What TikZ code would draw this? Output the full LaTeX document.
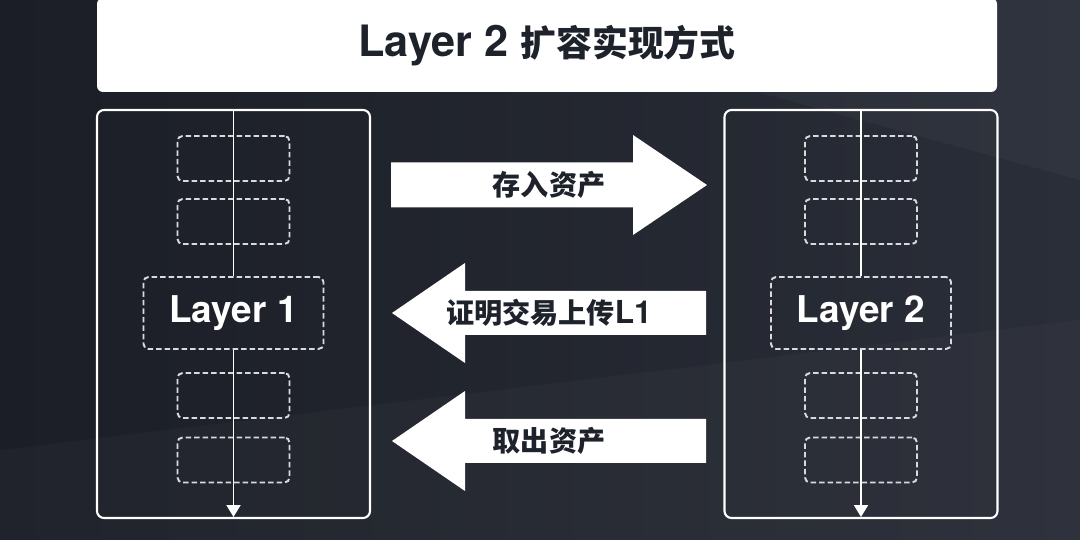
\documentclass[tikz,border=0pt]{standalone}
\usepackage{fontspec}
\setmainfont{TeX Gyre Heros}
\newfontfamily\cjk{Noto Sans CJK SC}
\usetikzlibrary{arrows.meta}

\definecolor{bgdark}{HTML}{1B1E26}
\definecolor{bglight}{HTML}{2A2E38}
\definecolor{ink}{HTML}{1E222B}
\definecolor{dashgray}{HTML}{D8DADE}

\begin{document}
\begin{tikzpicture}[
  panel/.style={draw=white, line width=0.6pt, rounded corners=0.07cm, minimum width=2.73cm, minimum height=4.08cm, inner sep=0pt},
  slot/.style={draw=dashgray, dash pattern=on 0.055cm off 0.03cm, line width=0.55pt, rounded corners=0.05cm, minimum width=1.12cm, minimum height=0.45cm, inner sep=0pt},
  layerbox/.style={slot, minimum width=1.80cm, minimum height=0.72cm, text=white, font=\bfseries\fontsize{10.5}{12}\selectfont},
  chain/.style={draw=white, line width=0.55pt},
  bigarrow/.style={fill=white},
  arrowlabel/.style={text=ink, font=\cjk\bfseries\fontsize{8}{10}\selectfont, inner sep=0pt}
]
\useasboundingbox (0,0) rectangle (10.8,5.4);
\shade[left color=bgdark, right color=bglight] (0,0) rectangle (10.8,5.4);
\fill[white, opacity=0.03] (4.2,5.4) -- (10.8,5.4) -- (10.8,3.6) -- cycle;
\fill[white, opacity=0.025] (0,0.9) -- (10.8,2.2) -- (10.8,0) -- (0,0) -- cycle;

% title
\node[fill=white, rounded corners=0.06cm, minimum width=9cm, minimum height=0.94cm, text=ink] (title) at (5.47,4.95)
  {{\bfseries\fontsize{12.3}{14}\selectfont Layer 2\ }{\cjk\bfseries\fontsize{10.2}{12}\selectfont 扩容实现方式}};

% left chain
\node[panel] (leftpanel) at (2.335,2.26) {};
\node[slot] (l1a) at (2.335,3.815) {};
\node[slot] (l1b) at (2.335,3.185) {};
\node[layerbox] (l1) at (2.335,2.27) {Layer 1};
\node[slot] (l1c) at (2.335,1.445) {};
\node[slot] (l1d) at (2.335,0.80) {};
\coordinate (l1start) at (2.335,4.30);
\coordinate (l1end) at (2.335,0.23);
\draw[chain] (l1start) -- (l1.north);
\draw[chain, -{Triangle[width=0.14cm, length=0.12cm]}] (l1.south) -- (l1end);

% right chain
\node[panel] (rightpanel) at (8.61,2.26) {};
\node[slot] (l2a) at (8.61,3.815) {};
\node[slot] (l2b) at (8.61,3.185) {};
\node[layerbox] (l2) at (8.61,2.27) {Layer 2};
\node[slot] (l2c) at (8.61,1.445) {};
\node[slot] (l2d) at (8.61,0.80) {};
\coordinate (l2start) at (8.61,4.30);
\coordinate (l2end) at (8.61,0.23);
\draw[chain] (l2start) -- (l2.north);
\draw[chain, -{Triangle[width=0.14cm, length=0.12cm]}] (l2.south) -- (l2end);

% arrows between the layers
\fill[bigarrow] (3.91,3.775) -- (6.33,3.775) -- (6.33,4.05) -- (7.07,3.55) -- (6.33,3.05) -- (6.33,3.325) -- (3.91,3.325) -- cycle;
\node[arrowlabel] (deposit) at (5.49,3.55) {存入资产};

\fill[bigarrow] (7.06,2.49) -- (4.65,2.49) -- (4.65,2.77) -- (3.92,2.27) -- (4.65,1.77) -- (4.65,2.05) -- (7.06,2.05) -- cycle;
\node[arrowlabel] (prove) at (5.49,2.27) {证明交易上传{\fontspec{TeX Gyre Heros}\bfseries\fontsize{9}{10}\selectfont L1}};

\fill[bigarrow] (7.06,1.21) -- (4.65,1.21) -- (4.65,1.49) -- (3.92,0.99) -- (4.65,0.49) -- (4.65,0.77) -- (7.06,0.77) -- cycle;
\node[arrowlabel] (withdraw) at (5.49,0.99) {取出资产};
\end{tikzpicture}
\end{document}
